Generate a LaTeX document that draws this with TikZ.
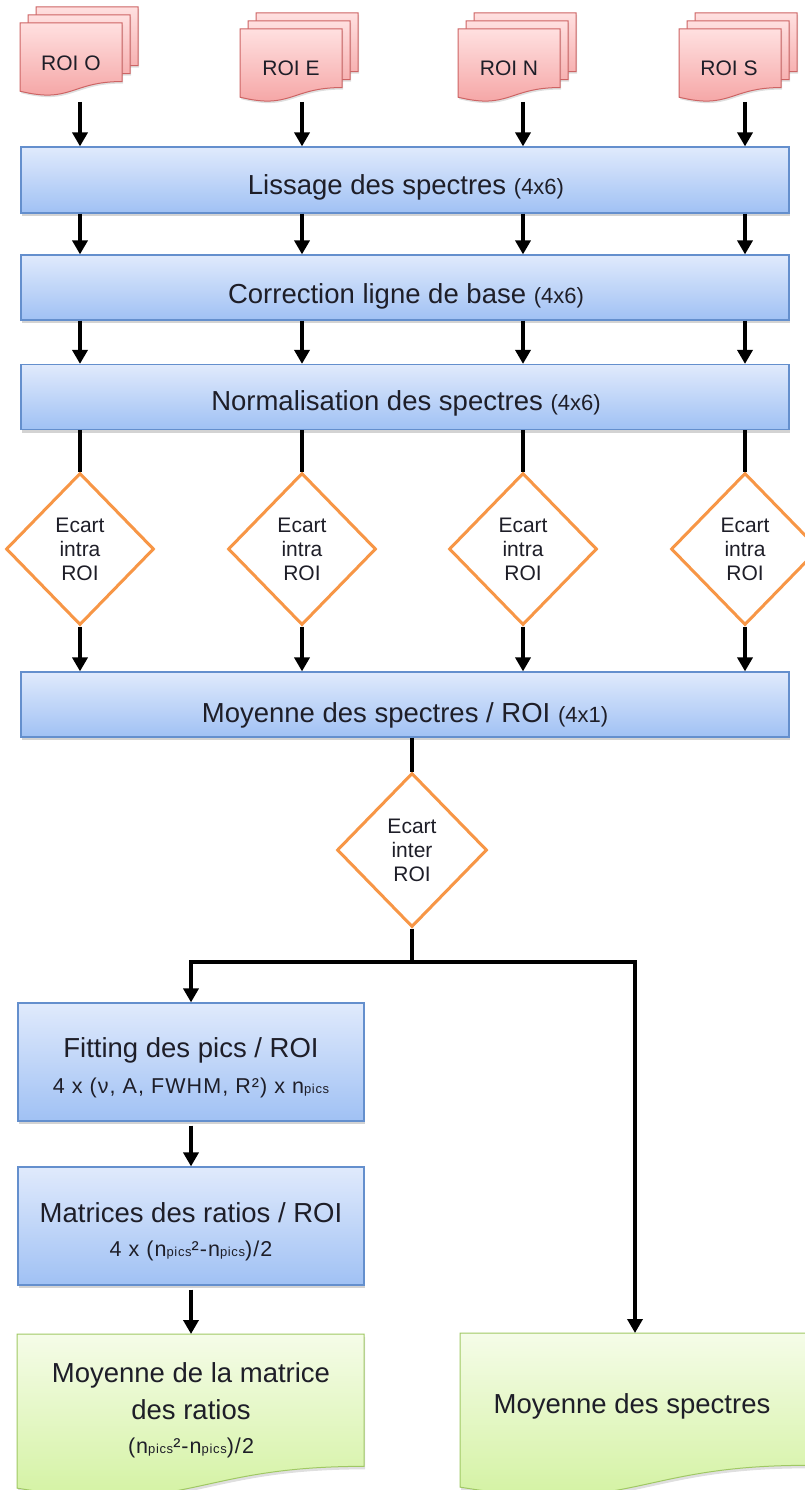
\documentclass[tikz,border=0pt]{standalone}
\usepackage{fontspec}
\setmainfont{Liberation Sans}
\usetikzlibrary{arrows.meta,shapes.geometric,shadows}

\definecolor{bluetop}{RGB}{224,234,252}
\definecolor{bluebot}{RGB}{160,193,244}
\definecolor{blueedge}{RGB}{100,143,205}
\definecolor{redtop}{RGB}{255,224,224}
\definecolor{redbot}{RGB}{244,160,160}
\definecolor{rededge}{RGB}{205,100,100}
\definecolor{greentop}{RGB}{245,252,232}
\definecolor{greenbot}{RGB}{208,241,155}
\definecolor{greenedge}{RGB}{160,200,100}
\definecolor{orangeedge}{RGB}{247,150,70}
\definecolor{txt}{RGB}{30,30,40}

\newcommand\fs[1]{\fontsize{#1}{#1}\selectfont}
\newcommand\npicsx{n{\fontsize{13}{13}\selectfont pics}}

\newcommand\docshape[5]{%
  \pgfmathsetmacro\dxR{#1+#3}%
  \pgfmathsetmacro\dxM{#1+0.5*#3}%
  \pgfmathsetmacro\dyR{#2+0.802*#4}%
  \pgfmathsetmacro\dyM{#2+1.1075*#4}%
  \pgfmathsetmacro\dyL{#2+0.934*#4}%
  \path[#5] (#1,#2) -- (\dxR,#2) -- (\dxR,\dyR) .. controls (\dxM,\dyR) and (\dxM,\dyM) .. (#1,\dyL) -- cycle;}

\newcommand\roistack[2]{%
  \docshape{#1+16}{#2-16}{102}{73}{roidoc}%
  \docshape{#1+8}{#2-8}{102}{73}{roidoc}%
  \docshape{#1}{#2}{102}{73}{roidoc}}

\begin{document}
\begin{tikzpicture}[x=1pt,y=-1pt,
  bluebox/.style={draw=blueedge,line width=1.2pt,top color=bluetop,bottom color=bluebot,
    inner sep=0pt,drop shadow={shadow xshift=1pt,shadow yshift=-3pt,opacity=0.35}},
  roidoc/.style={draw=rededge,line width=1pt,top color=redtop,bottom color=redbot,
    drop shadow={shadow xshift=1pt,shadow yshift=-2pt,opacity=0.25}},
  greendoc/.style={draw=greenedge,line width=1pt,top color=greentop,bottom color=greenbot,
    drop shadow={shadow xshift=1pt,shadow yshift=-3pt,opacity=0.25}},
  lbl/.style={inner sep=0pt,text=txt,font=\fs{27.5}},
  sub/.style={inner sep=0pt,text=txt,font=\fs{21.5}\addfontfeature{LetterSpace=5}},
  roitxt/.style={inner sep=0pt,text=txt,font=\fs{21}},
  dia/.style={diamond,draw=orangeedge,line width=3pt,fill=white,inner sep=0pt,
    minimum width=148,minimum height=152,align=center,text=txt,font=\fontsize{21}{24}\selectfont},
  line/.style={draw=black,line width=4pt},
  arr/.style={line,-{Triangle[width=15pt,length=14pt]}}]
\useasboundingbox (0,0) rectangle (805,1490);

% ROI documents
\roistack{20}{23}
\roistack{240}{29}
\roistack{458}{29}
\roistack{679}{29}
\node[roitxt] (roiO) at (71,63) {ROI O};
\node[roitxt] (roiE) at (291,68) {ROI E};
\node[roitxt] (roiN) at (509,68) {ROI N};
\node[roitxt] (roiS) at (729,68) {ROI S};

% main boxes
\node[bluebox,minimum width=768,minimum height=66] (lis) at (405,180) {};
\node[lbl,anchor=base] (lisT) at (406,195) {Lissage des spectres {\fs{22}(4x6)}};
\node[bluebox,minimum width=768,minimum height=65] (cor) at (405,287.5) {};
\node[lbl,anchor=base] (corT) at (406,303) {Correction ligne de base {\fs{22}(4x6)}};
\node[bluebox,minimum width=768,minimum height=65] (nor) at (405,397) {};
\node[lbl,anchor=base] (norT) at (406,410) {Normalisation des spectres {\fs{22}(4x6)}};
\node[bluebox,minimum width=768,minimum height=65] (moy) at (405,704.5) {};
\node[lbl,anchor=base] (moyT) at (405,722) {Moyenne des spectres / ROI {\fs{22}(4x1)}};

% arrows from documents
\coordinate (aO) at (80,102);
\coordinate (aE) at (302,102);
\coordinate (aN) at (523,102);
\coordinate (aS) at (745,102);
\foreach \a in {aO,aE,aN,aS}{\draw[arr] (\a) -- (\a |- lis.north);}

% arrows between boxes, diamonds
\foreach \c/\i in {80/1,302/2,523/3,745/4}{
  \draw[arr] (lis.south -| \c,0) -- (cor.north -| \c,0);
  \draw[arr] (cor.south -| \c,0) -- (nor.north -| \c,0);
  \node[dia] (d\i) at (\c,549) {Ecart\\intra\\ROI};
  \draw[line] (nor.south -| d\i.north) -- (d\i.north);
  \draw[arr] (d\i.south) -- (d\i.south |- moy.north);
}

% inter ROI
\node[dia,minimum width=150,minimum height=154] (inter) at (412,850) {Ecart\\inter\\ROI};
\draw[line] (moy.south -| inter.north) -- (inter.north);
\coordinate (split) at (412,962);
\draw[line] (inter.south) -- (split);

% left branch
\node[bluebox,minimum width=346,minimum height=118] (fit) at (191,1062) {};
\node[lbl,anchor=base] (fitA) at (191,1057) {Fitting des pics / ROI};
\node[sub,anchor=base] (fitB) at (191,1093) {4 x (ν, A, FWHM, R²) x \npicsx};
\node[bluebox,minimum width=346,minimum height=118] (mat) at (191,1226) {};
\node[lbl,anchor=base] (matA) at (191,1222) {Matrices des ratios / ROI};
\node[sub,anchor=base] (matB) at (191,1256) {4 x (\npicsx²-\npicsx)/2};

\docshape{17}{1334}{347}{165}{greendoc}
\node[lbl,anchor=base] (g1a) at (191,1382) {Moyenne de la matrice};
\node[lbl,anchor=base] (g1b) at (191,1419) {des ratios};
\node[sub,anchor=base] (g1c) at (191,1453) {(\npicsx²-\npicsx)/2};
\coordinate (g1top) at (191,1334);

\docshape{460}{1333}{347}{165}{greendoc}
\node[lbl,anchor=base] (g2a) at (632,1413) {Moyenne des spectres};
\coordinate (g2top) at (635,1333);

\draw[arr] (split) -| (fit.north);
\draw[arr] (split) -| (g2top);
\draw[arr] ([yshift=-4pt]fit.south) -- (mat.north);
\draw[arr] ([yshift=-4pt]mat.south) -- (g1top);
\end{tikzpicture}
\end{document}
